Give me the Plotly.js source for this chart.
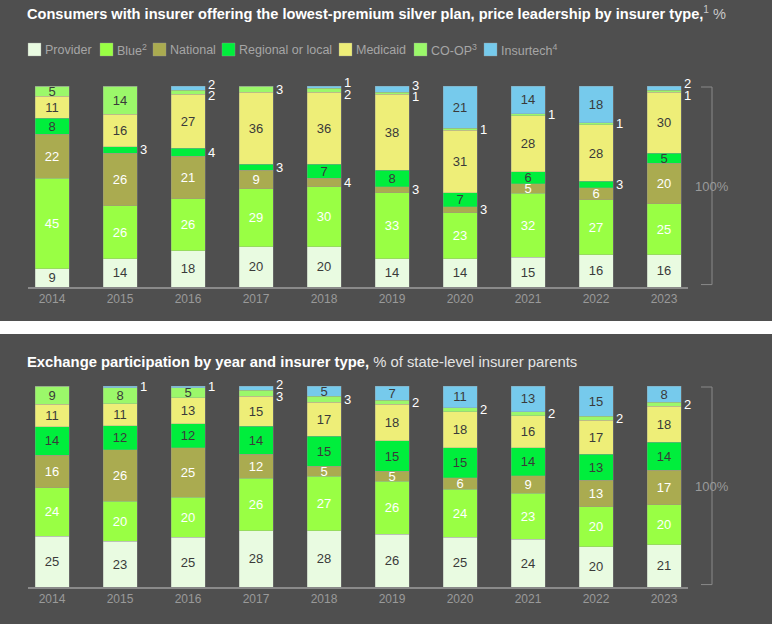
<!DOCTYPE html>
<html><head><meta charset="utf-8">
<script src="https://cdn.plot.ly/plotly-3.0.1.min.js"></script>
<style>
html,body{margin:0;padding:0;background:#ffffff;width:772px;height:624px;overflow:hidden;}
#top{position:absolute;left:0;top:0;width:772px;height:321px;}
#bot{position:absolute;left:0;top:334px;width:772px;height:290px;}
</style></head><body>
<div id="top"></div><div id="bot"></div>
<script>
// ---------- DATA ----------
const years = ['2014','2015','2016','2017','2018','2019','2020','2021','2022','2023'];
const seriesNames = ['Provider','Blue<sup>2</sup>','National','Regional or local','Medicaid','CO-OP<sup>3</sup>','Insurtech<sup>4</sup>'];

// Chart 1: consumers with insurer offering lowest-premium silver plan (%)
const topProvider  = [9, 14, 18, 20, 20, 14, 14, 15, 16, 16];
const topBlue      = [45, 26, 26, 29, 30, 33, 23, 32, 27, 25];
const topNational  = [22, 26, 21, 9, 4, 3, 3, 5, 6, 20];
const topRegional  = [8, 3, 4, 3, 7, 8, 7, 6, 3, 5];
const topMedicaid  = [11, 16, 27, 36, 36, 38, 31, 28, 28, 30];
const topCoop      = [5, 14, 2, 3, 2, 1, 1, 1, 1, 1];
const topInsurtech = [0, 0, 2, 0, 1, 3, 21, 14, 18, 2];

// Chart 2: exchange participation (% of state-level insurer parents)
const botProvider  = [25, 23, 25, 28, 28, 26, 25, 24, 20, 21];
const botBlue      = [24, 20, 20, 26, 27, 26, 24, 23, 20, 20];
const botNational  = [16, 26, 25, 12, 5, 5, 6, 9, 13, 17];
const botRegional  = [14, 12, 12, 14, 15, 15, 15, 14, 13, 14];
const botMedicaid  = [11, 11, 13, 15, 17, 18, 18, 16, 17, 18];
const botCoop      = [9, 8, 5, 3, 3, 2, 2, 2, 2, 2];
const botInsurtech = [0, 1, 1, 2, 5, 7, 11, 13, 15, 8];

const topTitle = '<b>Consumers with insurer offering the lowest-premium silver plan, price leadership by insurer type,</b><span style="color:#c8c8c8"><sup>1</sup> %</span>';
const botTitle = '<b>Exchange participation by year and insurer type,</b><span style="color:#e4e4e4"> % of state-level insurer parents</span>';
const bracketLabel = '100%';

// ---------- STYLE ----------
const FONT = 'Liberation Sans, Arial, sans-serif';
const BG = '#4f4f4f';
const colors = ['#e9fbe1', '#99ff44', '#aaab50', '#00ee3c', '#eeee78', '#9bf86a', '#76caec'];
const textColors = ['#3a3a3a', '#ffffff', '#ffffff', '#3a3a3a', '#3a3a3a', '#3a3a3a', '#3a3a3a'];
const OUTSIDE_MAX = 4;

function buildTraces(series) {
  return series.map((vals, k) => ({
    type: 'bar',
    name: seriesNames[k],
    x: years,
    y: vals,
    width: 0.5,
    marker: {color: colors[k], line: {color: 'rgba(150,150,150,0.55)', width: 0.6}},
    text: vals.map(v => (v > OUTSIDE_MAX ? String(v) : '')),
    texttemplate: '%{text}',
    textposition: 'inside',
    insidetextanchor: 'middle',
    textangle: 0,
    insidetextfont: {family: FONT, size: 13, color: textColors[k]},
    hoverinfo: 'skip',
    showlegend: false
  }));
}

function outsideLabels(series) {
  const anns = [];
  const SEP = 5.6;
  years.forEach((yr, i) => {
    const total = series.reduce((s, arr) => s + arr[i], 0);
    let cum = 0;
    const labs = [];
    series.forEach(arr => {
      const v = arr[i];
      if (v > 0 && v <= OUTSIDE_MAX) {
        labs.push({v: v, y: (cum + v / 2) / total * 100});
      }
      cum += v;
    });
    labs.sort((a, b) => b.y - a.y);
    for (let it = 0; it < 30; it++) {
      for (let j = 0; j < labs.length - 1; j++) {
        const d = labs[j].y - labs[j + 1].y;
        if (d < SEP) {
          const s = (SEP - d) / 2;
          labs[j].y += s; labs[j + 1].y -= s;
        }
      }
    }
    labs.forEach(l => anns.push({
      xref: 'x', yref: 'paper', x: i + 0.25, y: l.y / 100, xanchor: 'left', yanchor: 'middle',
      xshift: 2, text: String(l.v), showarrow: false, borderpad: 0,
      font: {family: FONT, size: 13, color: '#ffffff'}
    }));
  });
  return anns;
}

function makeLayout(H, mt, mb, title, titleY, titleSize) {
  const ML = 28, MR = 84, W = 772;
  const plotW = W - ML - MR;
  const px2x = px => (px - ML) / plotW;
  const bx0 = px2x(701), bx1 = px2x(712);
  return {
    width: W, height: H,
    paper_bgcolor: BG, plot_bgcolor: BG,
    margin: {l: ML, r: MR, t: mt, b: mb, pad: 0},
    barmode: 'stack', barnorm: 'percent',
    uniformtext: {mode: 'show', minsize: 13},
    showlegend: false, hovermode: false,
    font: {family: FONT, color: '#9a9a9a'},
    title: {text: title, x: 27 / W, xanchor: 'left', xref: 'container',
            y: 1 - titleY / H, yanchor: 'middle', yref: 'container',
            font: {family: FONT, size: titleSize, color: '#ffffff'}},
    xaxis: {type: 'category', range: [-0.353, 9.353], showgrid: false, zeroline: false,
            showline: true, linecolor: '#8a8a8a', linewidth: 1.5, ticks: '',
            tickfont: {family: FONT, size: 12, color: '#9a9a9a'}, fixedrange: true},
    yaxis: {range: [0, 100], visible: false, fixedrange: true},
    shapes: [{
      type: 'path', xref: 'paper', yref: 'y',
      path: `M ${bx0} 99.5 L ${bx1} 99.5 L ${bx1} 1.2 L ${bx0} 1.2`,
      line: {color: '#8a8a8a', width: 1}
    }],
    annotations: [{
      xref: 'paper', yref: 'y', x: bx1, y: 50, xanchor: 'center', yanchor: 'middle',
      text: bracketLabel, showarrow: false, font: {family: FONT, size: 13, color: '#9a9a9a'}
    }]
  };
}

// ---------- TOP CHART ----------
const topSeries = [topProvider, topBlue, topNational, topRegional, topMedicaid, topCoop, topInsurtech];
const topLayout = makeLayout(321, 86, 34, topTitle, 14, 14.6);
topLayout.annotations = topLayout.annotations.concat(outsideLabels(topSeries));
// manual legend
(function () {
  const ML = 28, plotW = 660, plotTop = 86, plotBot = 287;
  const px2x = px => (px - ML) / plotW;
  const py2y = py => (plotBot - py) / (plotBot - plotTop);
  const boxX = [28, 100, 153, 222, 339, 414, 484];
  seriesNames.forEach((nm, k) => {
    topLayout.shapes.push({type: 'rect', xref: 'paper', yref: 'paper',
      x0: px2x(boxX[k]), x1: px2x(boxX[k] + 13), y0: py2y(56), y1: py2y(43),
      fillcolor: colors[k], line: {color: 'rgba(150,150,150,0.6)', width: 0.6}});
    topLayout.annotations.push({xref: 'paper', yref: 'paper', x: px2x(boxX[k] + 15), y: py2y(50),
      xanchor: 'left', yanchor: 'middle', showarrow: false, text: nm,
      font: {family: FONT, size: 12.5, color: '#a6a6a6'}});
  });
})();
Plotly.newPlot('top', buildTraces(topSeries), topLayout, {staticPlot: true, displayModeBar: false});

// ---------- BOTTOM CHART ----------
const botSeries = [botProvider, botBlue, botNational, botRegional, botMedicaid, botCoop, botInsurtech];
const botLayout = makeLayout(290, 52, 37, botTitle, 28, 14.8);
botLayout.annotations = botLayout.annotations.concat(outsideLabels(botSeries));
Plotly.newPlot('bot', buildTraces(botSeries), botLayout, {staticPlot: true, displayModeBar: false});
</script>
</body></html>
